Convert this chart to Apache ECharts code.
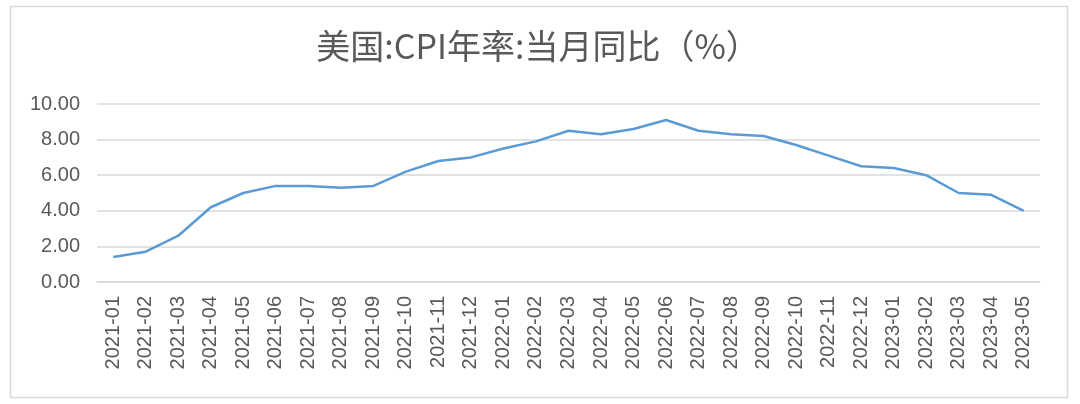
<!DOCTYPE html>
<html>
<head>
<meta charset="utf-8">
<script src="https://cdn.jsdelivr.net/npm/echarts@6/dist/echarts.min.js"></script>
<style>
html,body{margin:0;padding:0;background:#fff;}
#c{width:1080px;height:404px;}
</style>
</head>
<body>
<div id="c"></div>
<script>
const categories = ['2021-01','2021-02','2021-03','2021-04','2021-05','2021-06','2021-07','2021-08','2021-09','2021-10','2021-11','2021-12','2022-01','2022-02','2022-03','2022-04','2022-05','2022-06','2022-07','2022-08','2022-09','2022-10','2022-11','2022-12','2023-01','2023-02','2023-03','2023-04','2023-05'];
const cpiYoY = [1.4,1.7,2.6,4.2,5.0,5.4,5.4,5.3,5.4,6.2,6.8,7.0,7.5,7.9,8.5,8.3,8.6,9.1,8.5,8.3,8.2,7.7,7.1,6.5,6.4,6.0,5.0,4.9,4.0];
const titleText = '美国:CPI年率:当月同比（%）';

const chart = echarts.init(document.getElementById('c'));
chart.setOption({
  animation: false,
  backgroundColor: '#fff',
  graphic: [{
    type: 'rect',
    shape: {x: 10.5, y: 6.5, width: 1057, height: 391},
    style: {fill: 'none', stroke: '#d9d9d9', lineWidth: 1.5},
    silent: true
  }],
  title: {
    text: titleText,
    left: 533,
    textAlign: 'center',
    top: 24,
    textStyle: {fontFamily: 'Noto Sans CJK SC', fontWeight: 'normal', fontSize: 34, color: '#595959'}
  },
  grid: {left: 97, right: 40, top: 104, bottom: 122},
  xAxis: {
    type: 'category',
    data: categories,
    boundaryGap: true,
    axisTick: {show: false},
    axisLine: {lineStyle: {color: '#d9d9d9', width: 1.5}},
    axisLabel: {rotate: 90, margin: 14, fontSize: 20, color: '#595959', fontFamily: 'Liberation Sans', interval: 0}
  },
  yAxis: {
    type: 'value',
    min: 0, max: 10, interval: 2,
    axisLine: {show: false},
    axisTick: {show: false},
    splitLine: {lineStyle: {color: '#d9d9d9', width: 1.5}},
    axisLabel: {formatter: v => v.toFixed(2), fontSize: 20, color: '#595959', fontFamily: 'Liberation Sans', margin: 17}
  },
  series: [{
    type: 'line',
    data: cpiYoY,
    symbol: 'none',
    lineStyle: {color: '#5B9BD5', width: 2.5}
  }]
});
</script>
</body>
</html>
